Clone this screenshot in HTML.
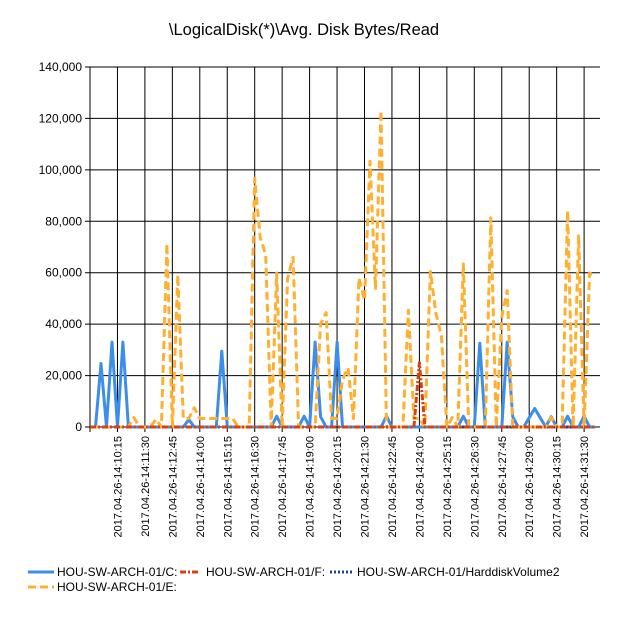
<!DOCTYPE html>
<html><head><meta charset="utf-8"><style>
body{margin:0;background:#fff;}
svg{display:block;font-family:"Liberation Sans",sans-serif;}
</style></head><body>
<svg id="chart" width="620" height="620">
<text x="304" y="35" text-anchor="middle" font-size="16.5">\LogicalDisk(*)\Avg. Disk Bytes/Read</text>
<g id="grid"></g><g id="series"></g><g id="labels"></g>
<g font-size="12">
<g><line x1="28" y1="572" x2="54" y2="572" stroke="#3d8ee8" stroke-width="3"/><text x="57" y="576">HOU-SW-ARCH-01/C:</text></g>
<g><line x1="180" y1="572" x2="200" y2="572" stroke="#d84010" stroke-width="3" stroke-dasharray="6,2,2,2"/><text x="206" y="576">HOU-SW-ARCH-01/F:</text></g>
<g><line x1="330" y1="572" x2="352" y2="572" stroke="#1a4a8a" stroke-width="3" stroke-dasharray="2,2"/><text x="357" y="576">HOU-SW-ARCH-01/HarddiskVolume2</text></g>
<g><line x1="28" y1="587" x2="54" y2="587" stroke="#ffb030" stroke-width="3" stroke-dasharray="8,4"/><text x="57" y="591">HOU-SW-ARCH-01/E:</text></g>
</g>
</svg>
<script>
const yTicks=[0,20000,40000,60000,80000,100000,120000,140000];
const xTickLabels=["2017.04.26-14:10:15","2017.04.26-14:11:30","2017.04.26-14:12:45","2017.04.26-14:14:00","2017.04.26-14:15:15","2017.04.26-14:16:30","2017.04.26-14:17:45","2017.04.26-14:19:00","2017.04.26-14:20:15","2017.04.26-14:21:30","2017.04.26-14:22:45","2017.04.26-14:24:00","2017.04.26-14:25:15","2017.04.26-14:26:30","2017.04.26-14:27:45","2017.04.26-14:29:00","2017.04.26-14:30:15","2017.04.26-14:31:30"];
const N=93;
const seriesC=[[2,24700],[4,33000],[6,33000],[18,2900],[24,29500],[34,4200],[39,4200],[41,33000],[42,4000],[45,33000],[54,4200],[68,4200],[71,32600],[76,33000],[77,4000],[80,3600],[81,7200],[82,3600],[84,4000],[87,4200],[90,4200]];
const seriesE=[[8,3700],[12,2900],[14,71300],[16,59200],[17,3300],[18,3300],[19,7500],[20,3300],[21,3300],[22,3300],[23,3300],[24,3300],[25,3300],[26,3300],[30,96700],[31,73700],[32,67100],[34,59900],[36,57900],[37,66000],[42,40100],[43,44500],[44,3300],[45,3300],[46,18400],[47,23000],[48,3300],[49,57900],[50,49300],[51,103300],[52,53900],[53,123000],[58,45400],[59,3300],[60,3300],[62,60500],[63,44100],[64,35500],[66,3700],[68,63400],[73,81300],[75,42800],[76,53000],[84,3700],[87,84000],[89,74300],[91,59900],[92,58600]];
const seriesF=[[60,25000]];
const seriesH=[];
const X0=90,Y0=427,YT=67;
const xs=i=>X0+i*(27.45/5);
const ys=v=>Y0-(v/140000)*(Y0-YT);
const NS="http://www.w3.org/2000/svg";
function mk(t,a,p){const e=document.createElementNS(NS,t);for(const k in a)e.setAttribute(k,a[k]);p.appendChild(e);return e;}
const grid=document.getElementById('grid'),lab=document.getElementById('labels'),ser=document.getElementById('series');
yTicks.forEach((v,i)=>{
 const l=mk('line',{x1:85,x2:600,y1:ys(v),y2:ys(v),stroke:'#000','stroke-width':1},grid);
 
 
 const t=mk('text',{x:82,y:ys(v)+4,'text-anchor':'end','font-size':12},lab);
 t.textContent=v.toLocaleString('en-US');
 
 
});
const ax=mk('line',{x1:X0,x2:X0,y1:YT,y2:432,stroke:'#000','stroke-width':1},grid);


xTickLabels.forEach((s,i)=>{
 const x=xs(5*(i+1));
 const l=mk('line',{x1:x,x2:x,y1:YT,y2:432,stroke:'#000','stroke-width':1},grid);
 
 
 const t=mk('text',{x:0,y:0,'text-anchor':'end','font-size':11,transform:`translate(${x+4},436) rotate(-90)`},lab);
 t.textContent=s;
 
 
});
function full(sp){const a=new Array(N).fill(0);sp.forEach(([i,v])=>a[i]=v);return a;}
function draw(sp,style,name){
 const a=full(sp);
 const d=a.map((v,i)=>(i?'L':'M')+xs(i).toFixed(1)+','+ys(v).toFixed(1)).join('');
 const p=mk('path',Object.assign({d:d,fill:'none','stroke-linejoin':'round'},style),ser);
 
 
}
draw(seriesH,{stroke:'#1a4a8a','stroke-width':3,'stroke-dasharray':'2,2'},'series-harddiskvolume2');
draw(seriesC,{stroke:'#3d8ee8','stroke-width':3},'series-c');
draw(seriesE,{stroke:'#ffb030','stroke-width':3,'stroke-dasharray':'8,4'},'series-e');
draw(seriesF,{stroke:'#d84010','stroke-width':3,'stroke-dasharray':'6,2,2,2'},'series-f');
</script>
</body></html>
